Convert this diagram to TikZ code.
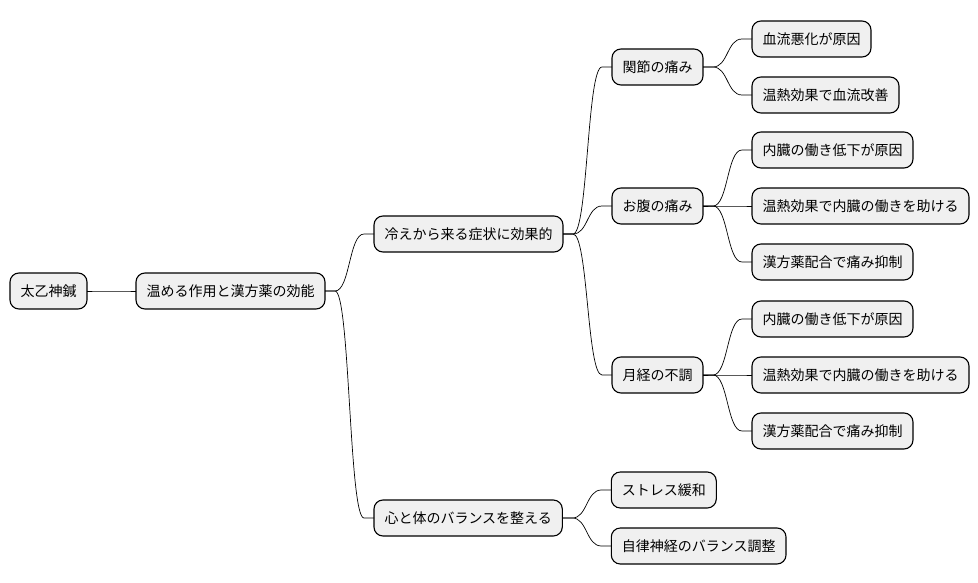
\documentclass[tikz,border=0pt]{standalone}
\usepackage{fontspec}
\setmainfont{Noto Sans CJK JP}
\usetikzlibrary{positioning}

\begin{document}
\begin{tikzpicture}[
    x=1pt, y=1pt,
    node distance=49pt,
    box/.style={rectangle, draw, line width=1.1pt, rounded corners=9pt, fill=black!6,
      minimum height=36pt, inner xsep=10.5pt, inner ysep=2pt, outer sep=0pt,
      font=\fontsize{14}{16}\selectfont},
    branch/.style={line width=0.7pt, to path={(\tikztostart.east) -- ++(10pt,0)
      .. controls +(15pt,0) and +(-15pt,0) .. ([xshift=-10pt]\tikztotarget.west)
      -- (\tikztotarget.west)}}
  ]
    \useasboundingbox (0,0) rectangle (978,-583);
    \node[box, anchor=west] (root) at (10,-291) {太乙神鍼};
    \node[box, right=of root] (effect) {温める作用と漢方薬の効能};
    \node[box, right=of effect, yshift=57pt] (cold) {冷えから来る症状に効果的};
    \node[box, right=of effect, yshift=-227pt] (balance) {心と体のバランスを整える};
    \node[box, right=of cold, yshift=167pt] (joint) {関節の痛み};
    \node[box, right=of cold, yshift=28pt] (belly) {お腹の痛み};
    \node[box, right=of cold, yshift=-141pt] (mens) {月経の不調};
    \node[box, right=of balance, yshift=28pt] (stress) {ストレス緩和};
    \node[box, right=of balance, yshift=-28pt] (nerve) {自律神経のバランス調整};
    \node[box, right=of joint, yshift=28pt] (joint1) {血流悪化が原因};
    \node[box, right=of joint, yshift=-28pt] (joint2) {温熱効果で血流改善};
    \node[box, right=of belly, yshift=56pt] (belly1) {内臓の働き低下が原因};
    \node[box, right=of belly] (belly2) {温熱効果で内臓の働きを助ける};
    \node[box, right=of belly, yshift=-56pt] (belly3) {漢方薬配合で痛み抑制};
    \node[box, right=of mens, yshift=56pt] (mens1) {内臓の働き低下が原因};
    \node[box, right=of mens] (mens2) {温熱効果で内臓の働きを助ける};
    \node[box, right=of mens, yshift=-56pt] (mens3) {漢方薬配合で痛み抑制};
    \foreach \p/\c in {root/effect, effect/cold, effect/balance,
        cold/joint, cold/belly, cold/mens, balance/stress, balance/nerve,
        joint/joint1, joint/joint2, belly/belly1, belly/belly2, belly/belly3,
        mens/mens1, mens/mens2, mens/mens3}
      \draw[branch] (\p) to (\c);
  \end{tikzpicture}
\end{document}
